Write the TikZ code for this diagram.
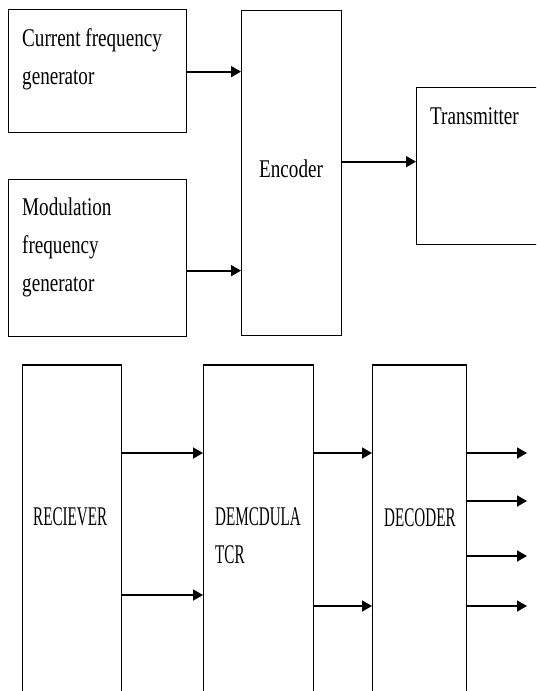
\documentclass[tikz,border=0pt]{standalone}
\usepackage{fontspec}
\setmainfont[FakeStretch=0.75]{Liberation Serif}
\newfontfamily\capsfont[FakeStretch=0.56]{Liberation Serif}
\usetikzlibrary{arrows.meta}
\begin{document}
\begin{tikzpicture}[x=1pt,y=-1pt,
  box/.style={draw=black,line width=1.3pt,rectangle,inner sep=0pt,anchor=north west},
  conn/.style={draw=black,line width=1.8pt,-{Triangle[length=10pt,width=11pt]}},
  toplabel/.style={inner sep=0pt,font=\fontsize{25.5}{38}\selectfont,align=left},
  botlabel/.style={inner sep=0pt,font=\capsfont\fontsize{27}{38}\selectfont,align=left}]
\useasboundingbox (0,0) rectangle (536,691);
\clip (0,0) rectangle (536,691);
% top row
\node[box,minimum width=178pt,minimum height=123pt] (cfg) at (8,9) {};
\node[box,minimum width=178pt,minimum height=157pt] (mfg) at (8,179) {};
\node[box,minimum width=100pt,minimum height=325pt] (enc) at (241,10) {};
\node[box,minimum width=160pt,minimum height=157pt] (tx) at (416,87) {};
\node[toplabel,anchor=north west] (cfgt) at (22,28) {Current frequency\\generator};
\node[toplabel,anchor=north west] (mfgt) at (22,198) {Modulation\\frequency\\generator};
\node[toplabel,anchor=base west] (enct) at (259,177) {Encoder};
\node[toplabel,anchor=base west] (txt) at (430,124) {Transmitter};
\draw[conn] ([yshift=-0.5pt]cfg.east) -- ([yshift=-0.5pt]cfg.east -| enc.west);
\draw[conn] ([yshift=-12.5pt]mfg.east) -- ([yshift=-12.5pt]mfg.east -| enc.west);
\draw[conn] ([yshift=11.5pt]enc.east) -- ([yshift=11.5pt]enc.east -| tx.west);
% bottom row
\node[box,minimum width=99pt,minimum height=340pt] (rec) at (22,365) {};
\node[box,minimum width=110pt,minimum height=340pt] (dem) at (203,365) {};
\node[box,minimum width=94pt,minimum height=340pt] (dec) at (372,365) {};
\draw[black,line width=2.2pt] (rec.north west) -- (rec.north east);
\draw[black,line width=2.2pt] (dem.north west) -- (dem.north east);
\draw[black,line width=2.2pt] (dec.north west) -- (dec.north east);
\node[botlabel,anchor=base west] (rect) at (33,525) {RECIEVER};
\node[botlabel,anchor=base west] (demt) at (215,525) {DEMCDULA};
\node[botlabel,anchor=base west] (demt2) at (215,563) {TCR};
\node[botlabel,anchor=base west] (dect) at (384,526) {DECODER};
\coordinate (o1) at (527,453);
\coordinate (o2) at (527,501);
\coordinate (o3) at (527,556);
\coordinate (o4) at (527,606);
\draw[conn] (rec.east |- o1) -- (dem.west |- o1);
\draw[conn] (rec.east |- 0,595) -- (dem.west |- 0,595);
\draw[conn] (dem.east |- o1) -- (dec.west |- o1);
\draw[conn,line width=1.3pt] (dem.east |- o4) -- (dec.west |- o4);
\draw[conn] (dec.east |- o1) -- (o1);
\draw[conn] (dec.east |- o2) -- (o2);
\draw[conn] (dec.east |- o3) -- (o3);
\draw[conn,line width=1.3pt] (dec.east |- o4) -- (o4);
\end{tikzpicture}
\end{document}
